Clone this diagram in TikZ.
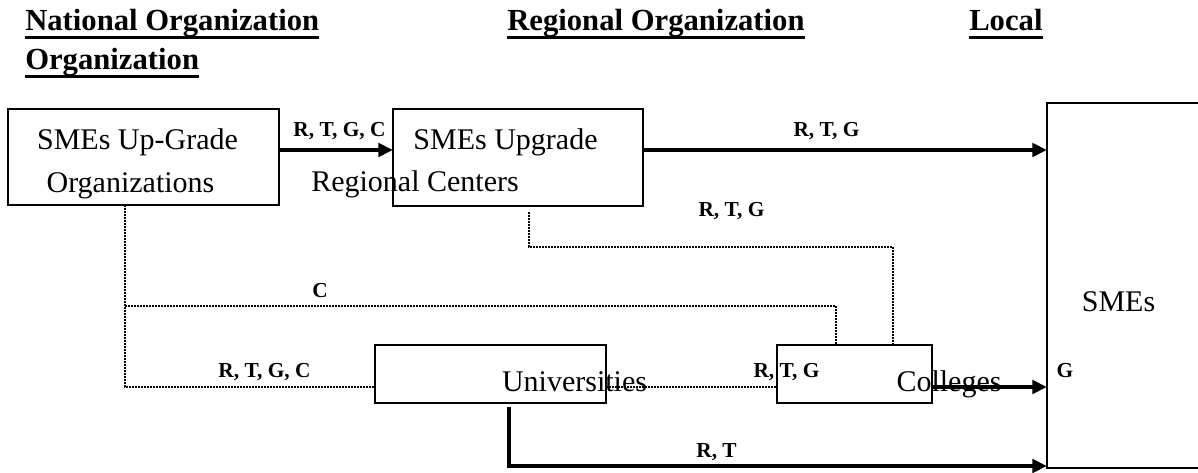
\documentclass[tikz,border=0pt]{standalone}
\usepackage{fontspec}
\setmainfont{Liberation Serif}
\usetikzlibrary{arrows.meta}

\begin{document}
\begin{tikzpicture}[x=0.75pt, y=-0.75pt,
		blk/.style 2 args={draw, line width=1.2pt, minimum width=#1*0.75pt, minimum height=#2*0.75pt, inner sep=0pt, outer sep=0pt},
		head/.style={font=\fontsize{23}{27}\selectfont\bfseries, inner sep=0pt, anchor=base west},
		txt/.style={font=\fontsize{22.5}{26}\selectfont, inner sep=0pt, anchor=base},
		lab/.style={font=\fontsize{16}{19}\selectfont\bfseries, inner sep=0pt, anchor=base},
		flow/.style={line width=3pt, -{Triangle[length=11pt, width=10pt]}},
		link/.style={line width=1pt, dash pattern=on 1.5pt off 0.75pt}]
			\useasboundingbox (0,0) rectangle (1198,473);
			\node[head] (nat) at (25,31) {National Organization};
			\node[head] (natb) at (25,70) {Organization};
			\node[head] (rgn) at (507,31) {Regional Organization};
			\node[head] (loc) at (969,31) {Local};
			\foreach \h in {nat, natb, rgn, loc} {
				\draw[line width=2.5pt] ([yshift=-5pt]\h.base west) -- ([yshift=-5pt]\h.base east);
			}
			\node[txt] (upgA) at (137.5,150) {SMEs Up-Grade};
			\node[txt] (upgB) at (130.5,193) {Organizations};
			\node[txt] (regA) at (505.5,150) {SMEs Upgrade};
			\node[txt] (regB) at (415,192) {Regional Centers};
			\node[txt] (uniT) at (574.5,392) {Universities};
			\node[txt] (colT) at (949,392) {Colleges};
			\node[txt] (smeT) at (1118.5,312) {SMEs};
			\node[blk={271}{96}] (upg) at (143.5,157) {};
			\node[blk={250}{97}] (reg) at (518,157.5) {};
			\node[blk={231}{58}] (uni) at (490.5,374) {};
			\node[blk={155}{58}] (col) at (854.5,374) {};
			\node[blk={154}{365}] (sme) at (1124,285.5) {};
			\coordinate (ytop) at (0,150);
			\coordinate (yc) at (0,306);
			\coordinate (yr) at (0,247);
			\coordinate (ymid) at (0,387);
			\coordinate (ylow) at (0,466);
			\coordinate (xa) at (125,0);
			\coordinate (xc) at (836,0);
			\coordinate (xd) at (893,0);
			\coordinate (rs) at (529,212);
			\coordinate (us) at (509,407);
			\draw[flow] (upg.east |- ytop) -- (reg.west |- ytop);
			\draw[flow] (reg.east |- ytop) -- (sme.west |- ytop);
			\draw[link] (upg.south -| xa) -- (xa |- ymid) -- (uni.west |- ymid);
			\draw[link] (xa |- yc) -- (xc |- yc) -- (col.north -| xc);
			\draw[link] (rs) -- (rs |- yr) -- (xd |- yr) -- (col.north -| xd);
			\draw[link] (uni.east |- ymid) -- (col.west |- ymid);
			\draw[flow] (col.east |- ymid) -- (sme.west |- ymid);
			\draw[flow] (us) -- (us |- ylow) -- (sme.west |- ylow);
			\node[lab] (l1) at (339.5,137) {R, T, G, C};
			\node[lab] (l2) at (826.5,137) {R, T, G};
			\node[lab] (l3) at (731.5,217) {R, T, G};
			\node[lab] (l4) at (320,298) {C};
			\node[lab] (l5) at (264.5,378) {R, T, G, C};
			\node[lab] (l6) at (786.5,378) {R, T, G};
			\node[lab] (l7) at (1065,378) {G};
			\node[lab] (l8) at (716.5,457) {R, T};
	\end{tikzpicture}
\end{document}
